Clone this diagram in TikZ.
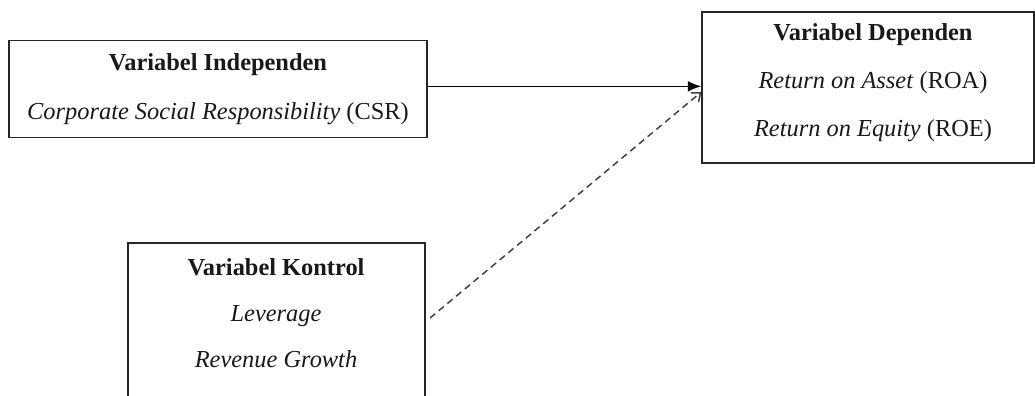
\documentclass[tikz,border=0pt]{standalone}
\usepackage{fontspec}
\setmainfont{Liberation Serif}
\usetikzlibrary{arrows.meta}
\begin{document}
\begin{tikzpicture}[x=0.75pt,y=-0.75pt,
  boxnode/.style={draw=black!85, line width=1.1pt, rectangle, inner sep=0pt},
  txt/.style={align=center, inner sep=0pt, text=black!90},
  solidarrow/.style={line width=1.1pt, draw=black, -{Latex[length=10pt,width=8pt]}},
  dasharrow/.style={line width=1.1pt, draw=black!75, dash pattern=on 5pt off 3.5pt, -{Straight Barb[length=5.5pt,width=9pt]}}]
\useasboundingbox (0,0) rectangle (1035,396);
\clip (0,0) rectangle (1035,396);
\fill[white] (0,0) rectangle (1035,396);
\node[boxnode, minimum width=313.5pt, minimum height=72.75pt] (b1) at (218,89) {};
\node[boxnode, minimum width=249pt, minimum height=113.25pt] (b2) at (868,87.5) {};
\node[boxnode, minimum width=222.75pt, minimum height=132.75pt] (b3) at (276.5,331.5) {};
\node[txt, font=\fontsize{18.3}{36.75}\selectfont] (t1) at (218,89.5) {\textbf{Variabel Independen}\\ \textit{Corporate Social Responsibility} (CSR)};
\node[txt, font=\fontsize{18.3}{36}\selectfont] (t2) at (873,83) {\textbf{Variabel Dependen}\\ \textit{Return on Asset} (ROA)\\ \textit{Return on Equity} (ROE)};
\node[txt, font=\fontsize{18.3}{34.5}\selectfont] (t3) at (276,313) {\textbf{Variabel Kontrol}\\ \textit{Leverage}\\ \textit{Revenue Growth}};
\coordinate (ds) at (430,318);
\draw[solidarrow] ([yshift=2pt]b1.east) -- ([yshift=2pt]b1.east -| b2.west);
\draw[dasharrow] (ds) -- ([yshift=-3.4pt]b2.west);
\end{tikzpicture}
\end{document}
